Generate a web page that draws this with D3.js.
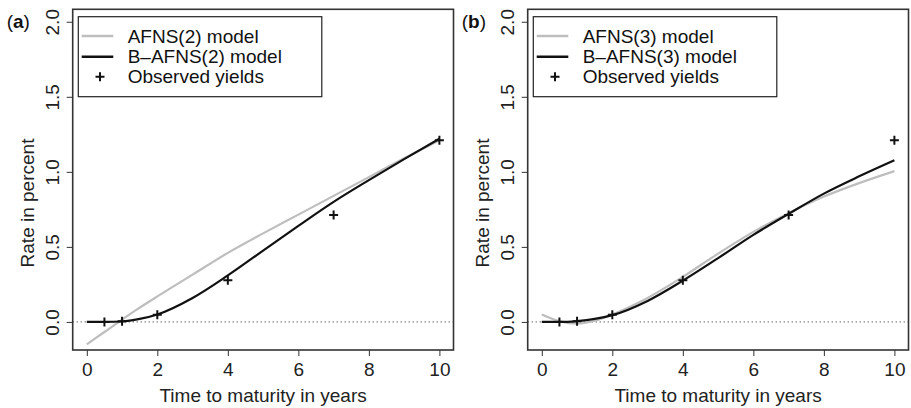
<!DOCTYPE html>
<html>
<head>
<meta charset="utf-8">
<script src="https://cdn.jsdelivr.net/npm/d3@7"></script>
<style>
  body { margin: 0; background: #fff; }
  svg { display: block; font-family: "Liberation Sans", Arial, sans-serif; }
</style>
</head>
<body>
<svg id="chart" width="911" height="408"></svg>
<script>
var maturities = [0, 0.5, 1, 1.5, 2, 3, 4, 5, 6, 7, 8, 9, 10];

// panel (a)
var afns2  = [-0.15, -0.067, 0.016, 0.095, 0.17, 0.315, 0.46, 0.59, 0.715, 0.84, 0.965, 1.09, 1.21];
var bafns2 = [0, 0, 0.003, 0.02, 0.05, 0.16, 0.31, 0.475, 0.64, 0.80, 0.945, 1.085, 1.22];

// panel (b)
var afns3  = [0.05, 0.005, -0.012, 0.008, 0.05, 0.16, 0.30, 0.455, 0.60, 0.725, 0.835, 0.925, 1.005];
var bafns3 = [0, 0, 0.006, 0.02, 0.045, 0.14, 0.275, 0.425, 0.58, 0.72, 0.855, 0.97, 1.077];

// observed yields
var obsMat   = [0.5, 1, 2, 4, 7, 10];
var obsYield = [0.0, 0.005, 0.048, 0.277, 0.713, 1.21];

var xTicks = [0, 2, 4, 6, 8, 10];
var yTicks = [0, 0.5, 1.0, 1.5, 2.0];

var svg = d3.select("#chart");
var fs = 19;

function plus(g, cx, cy, s){
    g.append("path")
      .attr("d", "M" + (cx - s) + "," + cy + "H" + (cx + s) + "M" + cx + "," + (cy - s) + "V" + (cy + s))
      .style("stroke", "#111")
      .style("stroke-width", "2px")
      .style("fill", "none");
}

function draw_panel(left, tag, gray, black, names){
    var right = left + 380.8, top = 9.3, bottom = 350;
    var x = d3.scaleLinear().domain([-0.4, 10.4]).range([left, right]);
    var y = d3.scaleLinear().domain([-0.187, 2.083]).range([bottom, top]);

    var g = svg.append("g");

    // zero line
    g.append("line")
      .attr("x1", left).attr("x2", right)
      .attr("y1", y(0)).attr("y2", y(0))
      .style("stroke", "#222")
      .style("stroke-width", "1px")
      .style("stroke-dasharray", "1,3");

    var line = d3.line()
      .x(function(d, i){ return x(maturities[i]); })
      .y(function(d){ return y(d); })
      .curve(d3.curveMonotoneX);

    g.append("path").datum(gray)
      .attr("d", line)
      .style("fill", "none").style("stroke", "#bebebe").style("stroke-width", "2.2px");
    g.append("path").datum(black)
      .attr("d", line)
      .style("fill", "none").style("stroke", "#111").style("stroke-width", "2.2px");

    obsMat.forEach(function(m, i){ plus(g, x(m), y(obsYield[i]), 4.5); });

    // axes
    var xa = g.append("g")
      .attr("transform", "translate(0," + bottom + ")")
      .call(d3.axisBottom(x).tickValues(xTicks).tickSize(6).tickSizeOuter(0).tickPadding(7));
    xa.select(".domain").remove();
    xa.selectAll("line").style("stroke", "#333");
    xa.selectAll("text").style("font-size", fs + "px").style("fill", "#222").style("font-family", null);

    var ya = g.append("g")
      .attr("transform", "translate(" + left + ",0)")
      .call(d3.axisLeft(y).tickValues(yTicks).tickSize(6).tickSizeOuter(0).tickFormat(d3.format(".1f")));
    ya.select(".domain").remove();
    ya.selectAll("line").style("stroke", "#333");
    ya.selectAll("text")
      .attr("x", 0).attr("dy", "0.35em")
      .attr("transform", "translate(-20,0) rotate(-90)")
      .attr("text-anchor", "middle")
      .style("font-size", fs + "px").style("fill", "#222").style("font-family", null);

    // frame
    g.append("rect")
      .attr("x", left).attr("y", top)
      .attr("width", right - left).attr("height", bottom - top)
      .style("fill", "none").style("stroke", "#333").style("stroke-width", "1.6px");

    // titles
    g.append("text")
      .attr("x", (left + right) / 2).attr("y", 401.5)
      .attr("text-anchor", "middle")
      .style("font-size", fs + "px").style("fill", "#222")
      .text("Time to maturity in years");

    g.append("text")
      .attr("transform", "translate(" + (left - 39.2) + ",203) rotate(-90)")
      .attr("text-anchor", "middle")
      .style("font-size", fs + "px").style("fill", "#222")
      .text("Rate in percent");

    var lab = g.append("text")
      .attr("x", left - 66).attr("y", 27.5)
      .style("font-size", fs + "px").style("fill", "#111");
    lab.append("tspan").text("(");
    lab.append("tspan").style("font-weight", "bold").text(tag);
    lab.append("tspan").text(")");

    // legend
    var lx = left + 5.6, ly = 16.7;
    var lg = g.append("g");
    lg.append("rect")
      .attr("x", lx).attr("y", ly).attr("width", 243.5).attr("height", 80)
      .style("fill", "#fff").style("stroke", "#222").style("stroke-width", "1.2px");
    var rows = [19.3, 40, 60];
    lg.append("line").attr("x1", lx + 3.4).attr("x2", lx + 35)
      .attr("y1", ly + rows[0]).attr("y2", ly + rows[0])
      .style("stroke", "#bebebe").style("stroke-width", "2.5px");
    lg.append("line").attr("x1", lx + 3.4).attr("x2", lx + 35)
      .attr("y1", ly + rows[1]).attr("y2", ly + rows[1])
      .style("stroke", "#111").style("stroke-width", "2.5px");
    plus(lg, lx + 21.7, ly + rows[2], 4.5);
    names.forEach(function(n, i){
        lg.append("text")
          .attr("x", lx + 49.4).attr("y", ly + rows[i]).attr("dy", "0.35em")
          .style("font-size", fs + "px").style("fill", "#111")
          .text(n);
    });
}

draw_panel(72.7, "a", afns2, bafns2, ["AFNS(2) model", "B\u2013AFNS(2) model", "Observed yields"]);
draw_panel(527.7, "b", afns3, bafns3, ["AFNS(3) model", "B\u2013AFNS(3) model", "Observed yields"]);
</script>
</body>
</html>
